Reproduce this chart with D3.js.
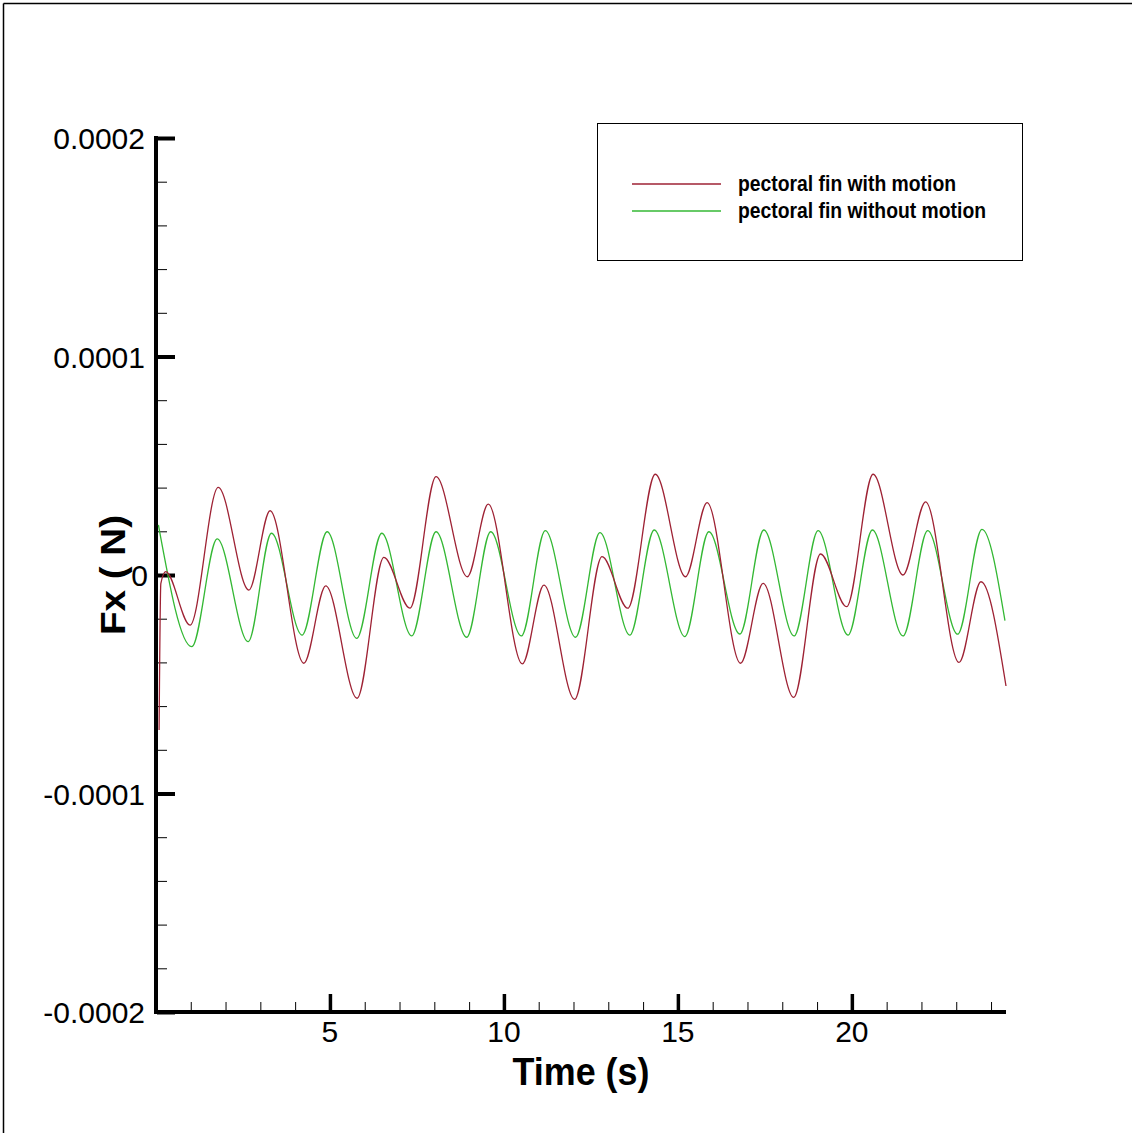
<!DOCTYPE html>
<html>
<head>
<meta charset="utf-8">
<script src="https://cdn.jsdelivr.net/npm/d3@7"></script>
<style>
  html, body { margin: 0; padding: 0; background: #fff; }
  svg { display: block; }
  text { font-family: "Liberation Sans", Arial, Helvetica, sans-serif; }
</style>
</head>
<body>
<svg id="chart" width="1132" height="1133"></svg>
<script>
// ---- data (time in s, Fx in N) ----
const withMotionT = [0.09, 0.14, 0.28, 0.98, 1.79, 2.67, 3.28, 4.25, 4.88, 5.78, 6.55, 7.30, 8.05, 8.95, 9.55, 10.53, 11.15, 12.03, 12.82, 13.56, 14.35, 15.22, 15.84, 16.80, 17.45, 18.33, 19.10, 19.85, 20.61, 21.47, 22.12, 23.08, 23.71, 24.43];
const withMotionFx = [-7.09e-5, -0.4e-5, 0.15e-5, -2.29e-5, 4.01e-5, -0.69e-5, 2.94e-5, -4.04e-5, -0.50e-5, -5.64e-5, 0.81e-5, -1.52e-5, 4.50e-5, -0.08e-5, 3.24e-5, -4.07e-5, -0.46e-5, -5.69e-5, 0.84e-5, -1.52e-5, 4.61e-5, -0.08e-5, 3.31e-5, -4.04e-5, -0.38e-5, -5.60e-5, 0.96e-5, -1.45e-5, 4.61e-5, 0.0, 3.35e-5, -4.00e-5, -0.31e-5, -5.08e-5];

const withoutMotionT = [0.07, 1.03, 1.76, 2.65, 3.32, 4.20, 4.92, 5.77, 6.49, 7.35, 8.05, 8.93, 9.62, 10.50, 11.19, 12.06, 12.76, 13.62, 14.32, 15.20, 15.89, 16.78, 17.47, 18.34, 19.03, 19.89, 20.59, 21.47, 22.18, 23.04, 23.74, 24.40];
const withoutMotionFx = [2.29e-5, -3.28e-5, 1.65e-5, -3.05e-5, 1.91e-5, -2.75e-5, 1.98e-5, -2.90e-5, 1.91e-5, -2.79e-5, 1.98e-5, -2.85e-5, 1.98e-5, -2.79e-5, 2.03e-5, -2.85e-5, 1.94e-5, -2.75e-5, 2.06e-5, -2.82e-5, 1.98e-5, -2.70e-5, 2.06e-5, -2.79e-5, 2.03e-5, -2.75e-5, 2.06e-5, -2.79e-5, 2.03e-5, -2.71e-5, 2.09e-5, -2.09e-5];

const seriesNames = ["pectoral fin with motion", "pectoral fin without motion"];
const seriesColors = ["#9e2234", "#34b834"];

const xMajorTicks = [5, 10, 15, 20];
const xMinorTicks = [1, 2, 3, 4, 6, 7, 8, 9, 11, 12, 13, 14, 16, 17, 18, 19, 21, 22, 23, 24];
const yMajorTicks = [-0.0002, -0.0001, 0, 0.0001, 0.0002];
const yMajorLabels = ["-0.0002", "-0.0001", "0", "0.0001", "0.0002"];
const yMinorTicks = [-0.00018, -0.00016, -0.00014, -0.00012, -0.00008, -0.00006, -0.00004, -0.00002,
                     0.00002, 0.00004, 0.00006, 0.00008, 0.00012, 0.00014, 0.00016, 0.00018];

const xTitle = "Time (s)";
const yTitle = "Fx ( N)";

// ---- layout ----
const svg = d3.select("#chart");
const x = d3.scaleLinear().domain([0.03, 24.43]).range([157, 1006]);
const y = d3.scaleLinear().domain([-0.0002, 0.0002]).range([1012, 138]);

// outer frame (top & left edges)
svg.append("line").attr("x1", 3.5).attr("y1", 3.5).attr("x2", 1132).attr("y2", 3.5)
  .attr("stroke", "#000").attr("stroke-width", 1.5);
svg.append("line").attr("x1", 3.5).attr("y1", 3.5).attr("x2", 3.5).attr("y2", 1133)
  .attr("stroke", "#000").attr("stroke-width", 1.5);

// ---- curves ----
const line = d3.line().x(d => x(d[0])).y(d => y(d[1])).curve(d3.curveMonotoneX);
const s1 = withMotionT.map((t, i) => [t, withMotionFx[i]]);
const s2 = withoutMotionT.map((t, i) => [t, withoutMotionFx[i]]);

// ---- axes ----
const xAxisMajor = d3.axisTop(x).tickValues(xMajorTicks).tickSize(18).tickFormat("");
const xAxisMinor = d3.axisTop(x).tickValues(xMinorTicks).tickSize(10).tickFormat("");
const yAxisMajor = d3.axisRight(y).tickValues(yMajorTicks).tickSize(18).tickFormat("");
const yAxisMinor = d3.axisRight(y).tickValues(yMinorTicks).tickSize(10).tickFormat("");

const gxMin = svg.append("g").attr("transform", "translate(0,1012)").call(xAxisMinor);
gxMin.selectAll("line").attr("stroke", "#000").attr("stroke-width", 1);
const gxMaj = svg.append("g").attr("transform", "translate(0,1012)").call(xAxisMajor);
gxMaj.selectAll("line").attr("stroke", "#000").attr("stroke-width", 3.5);
const gyMin = svg.append("g").attr("transform", "translate(157,0)").call(yAxisMinor);
gyMin.selectAll("line").attr("stroke", "#000").attr("stroke-width", 1);
const gyMaj = svg.append("g").attr("transform", "translate(157,0)").call(yAxisMajor);
gyMaj.selectAll("line").attr("stroke", "#000").attr("stroke-width", 4);
svg.selectAll(".domain").remove();

// axis lines
svg.append("line").attr("x1", 156).attr("x2", 156).attr("y1", y(0.0002) - 2).attr("y2", 1014)
  .attr("stroke", "#000").attr("stroke-width", 4);
svg.append("line").attr("x1", 154).attr("x2", x(24.43)).attr("y1", 1012).attr("y2", 1012)
  .attr("stroke", "#000").attr("stroke-width", 4);

svg.append("path").attr("d", line(s2)).attr("fill", "none")
  .attr("stroke", seriesColors[1]).attr("stroke-width", 1.3);
svg.append("path").attr("d", line(s1)).attr("fill", "none")
  .attr("stroke", seriesColors[0]).attr("stroke-width", 1.3);

// tick labels
svg.append("g").selectAll("text").data(xMajorTicks).join("text")
  .attr("x", d => x(d)).attr("y", 1042)
  .attr("text-anchor", "middle").attr("font-size", 30).attr("fill", "#000")
  .text(d => d);
svg.append("g").selectAll("text").data(yMajorTicks).join("text")
  .attr("x", d => d === 0 ? 148 : 145).attr("y", d => y(d) + 11)
  .attr("text-anchor", "end").attr("font-size", 30).attr("fill", "#000")
  .text((d, i) => yMajorLabels[i]);

// titles
svg.append("text").attr("x", 581).attr("y", 1085).attr("text-anchor", "middle")
  .attr("font-size", 38).attr("font-weight", "bold").attr("fill", "#000")
  .attr("textLength", 137).attr("lengthAdjust", "spacingAndGlyphs").text(xTitle);
svg.append("text").attr("transform", "translate(125,575) rotate(-90)").attr("text-anchor", "middle")
  .attr("font-size", 35).attr("font-weight", "bold").attr("fill", "#000")
  .attr("textLength", 120).attr("lengthAdjust", "spacingAndGlyphs").text(yTitle);

// ---- legend ----
const lg = svg.append("g");
lg.append("rect").attr("x", 597.5).attr("y", 123.5).attr("width", 425).attr("height", 137)
  .attr("fill", "#fff").attr("stroke", "#000").attr("stroke-width", 1);
const legendY = [184, 211];
const legendW = [218, 248];
seriesNames.forEach((name, i) => {
  lg.append("line").attr("x1", 632).attr("x2", 721).attr("y1", legendY[i]).attr("y2", legendY[i])
    .attr("stroke", seriesColors[i]).attr("stroke-width", 1.3);
  lg.append("text").attr("x", 738).attr("y", legendY[i] + 7)
    .attr("font-size", 21.5).attr("font-weight", "bold").attr("fill", "#000")
    .attr("textLength", legendW[i]).attr("lengthAdjust", "spacingAndGlyphs").text(name);
});
</script>
</body>
</html>
